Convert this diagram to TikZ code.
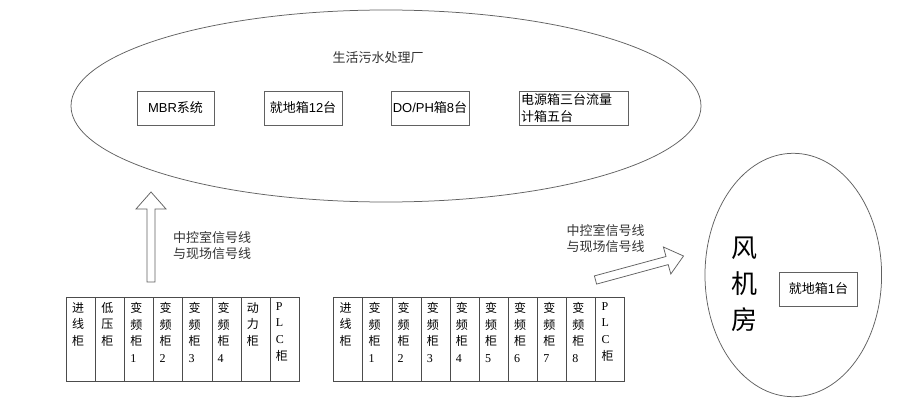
\documentclass[tikz,border=0pt]{standalone}
\usepackage{fontspec}
\setmainfont{Noto Sans CJK SC}
\newfontfamily\lsans{Liberation Sans}
\newfontfamily\lserif{Liberation Serif}
\usetikzlibrary{shapes.geometric}
\begin{document}
\begin{tikzpicture}[x=1pt,y=-1pt,
  outl/.style={draw=black!62, line width=0.75pt},
  boxn/.style={outl, rectangle, minimum height=34pt, inner sep=0pt, font=\fontsize{13}{15}\selectfont},
  cab/.style={draw=black!70, line width=1pt, rectangle, minimum width=29.1pt, minimum height=84pt, inner sep=0pt, anchor=north west},
  cabtxt/.style={anchor=north west, inner sep=0pt, align=left, font=\fontsize{12}{16.7}\selectfont},
  lbl/.style={align=center, inner sep=0pt, font=\fontsize{13}{16}\selectfont, text=black!80},
  barrow/.style={outl, fill=white}]
\useasboundingbox (0,0) rectangle (900,404);
\fill[white] (0,0) rectangle (900,404);

% big ellipse
\node[outl, ellipse, minimum width=630pt, minimum height=192pt, inner sep=0pt] (plant) at (386,106) {};
\node[lbl] (plantt) at (378,58) {生活污水处理厂};
\node[boxn, minimum width=77pt] (mbr) at (175.5,108) {{\lsans MBR}系统};
\node[boxn, minimum width=78pt] (jd12) at (303,108) {就地箱{\lsans 12}台};
\node[boxn, minimum width=78pt] (doph) at (430,108) {{\lsans DO/PH}箱{\lsans 8}台};
\node[boxn, minimum width=109pt, align=left, text width=105pt, font=\fontsize{13}{17}\selectfont] (pwr) at (573.5,108) {电源箱三台流量\\计箱五台};

% fan room
\node[outl, ellipse, minimum width=176.6pt, minimum height=243.4pt, inner sep=0pt] (fan) at (793.3,275) {};
\node[align=center, inner sep=0pt, font=\fontsize{26}{36}\selectfont] (fant) at (744,284) {风\\机\\房};
\node[boxn, minimum width=78.5pt] (jd1) at (818.5,289) {就地箱{\lsans 1}台};

% up arrow
\draw[barrow] (147,282) -- (147,209) -- (136,209) -- (151,192) -- (166,209) -- (155,209) -- (155,282) -- cycle;
\node[lbl] (lblA) at (212,246) {中控室信号线\\与现场信号线};

% right arrow
\draw[barrow] (596.6,284.1) -- (668.2,264.6) -- (670.8,274.0) -- (683.5,256) -- (663.4,247.0) -- (666.0,256.5) -- (594.4,275.9) -- cycle;
\node[lbl] (lblB) at (605.5,238.5) {中控室信号线\\与现场信号线};

% left cabinet row
\foreach \i/\t in {0/{进\\线\\柜}, 1/{低\\压\\柜}, 2/{变\\频\\柜\\{\lserif 1}}, 3/{变\\频\\柜\\{\lserif 2}}, 4/{变\\频\\柜\\{\lserif 3}}, 5/{变\\频\\柜\\{\lserif 4}}, 6/{动\\力\\柜}, 7/{{\lserif P}\\{\lserif L}\\{\lserif C}\\柜}} {
  \node[cab] (l\i) at ({66+29.1*\i},297) {};
  \node[cabtxt] (lt\i) at ([xshift=6pt,yshift=-5pt]l\i.north west) {\t};
}
% right cabinet row
\foreach \i/\t in {0/{进\\线\\柜}, 1/{变\\频\\柜\\{\lserif 1}}, 2/{变\\频\\柜\\{\lserif 2}}, 3/{变\\频\\柜\\{\lserif 3}}, 4/{变\\频\\柜\\{\lserif 4}}, 5/{变\\频\\柜\\{\lserif 5}}, 6/{变\\频\\柜\\{\lserif 6}}, 7/{变\\频\\柜\\{\lserif 7}}, 8/{变\\频\\柜\\{\lserif 8}}, 9/{{\lserif P}\\{\lserif L}\\{\lserif C}\\柜}} {
  \node[cab] (r\i) at ({333.3+29.12*\i},297) {};
  \node[cabtxt] (rt\i) at ([xshift=6pt,yshift=-5pt]r\i.north west) {\t};
}
\end{tikzpicture}
\end{document}
